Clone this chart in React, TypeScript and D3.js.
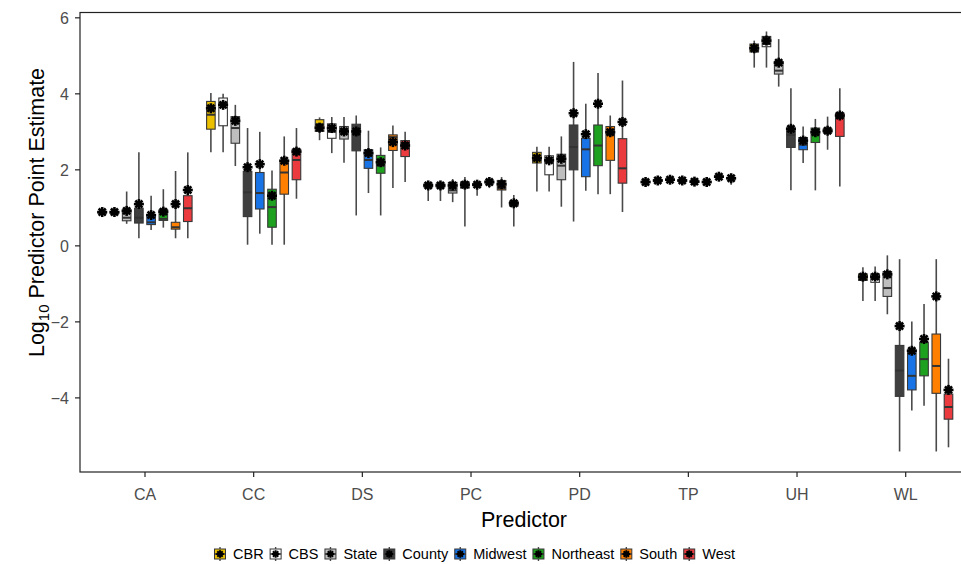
import React, { useEffect, useRef } from "react";
import * as d3 from "d3";

const predictors = ["CA", "CC", "DS", "PC", "PD", "TP", "UH", "WL"];
const groups = ["CBR", "CBS", "State", "County", "Midwest", "Northeast", "South", "West"];
const groupColors = ["#EBC000", "#FFFFFF", "#BEBEBE", "#3F3F3F", "#1874E6", "#1EA11E", "#FF8000", "#EB3B3F"];

// rows = predictors, columns = groups
const whiskerLow = [
  [0.84, 0.83, 0.58, 0.2, 0.42, 0.48, 0.2, 0.2],
  [2.46, 2.46, 2.1, 0.03, 0.32, 0.03, 0.03, 1.24],
  [2.78, 2.44, 2.19, 0.8, 1.39, 0.8, 1.52, 1.68],
  [1.18, 1.18, 1.15, 0.51, 1.32, 1.52, 1.01, 0.51],
  [1.43, 1.43, 1.03, 0.64, 1.45, 1.36, 1.36, 0.89],
  [1.64, 1.68, 1.7, 1.62, 1.65, 1.64, 1.76, 1.61],
  [4.69, 4.69, 4.19, 1.46, 2.18, 1.46, 2.53, 1.56],
  [-1.45, -1.45, -1.8, -5.41, -4.33, -4.21, -5.41, -5.3],
];
const boxLow = [
  [0.86, 0.85, 0.66, 0.6, 0.56, 0.67, 0.44, 0.64],
  [3.07, 3.16, 2.7, 0.77, 0.97, 0.49, 1.36, 1.74],
  [3.01, 2.83, 2.81, 2.5, 2.04, 1.91, 2.51, 2.35],
  [1.55, 1.55, 1.39, 1.52, 1.58, 1.65, 1.47, 1.05],
  [2.18, 1.87, 1.74, 2.0, 1.82, 2.11, 2.25, 1.65],
  [1.66, 1.7, 1.72, 1.7, 1.67, 1.66, 1.8, 1.76],
  [5.1, 5.24, 4.52, 2.59, 2.53, 2.72, 2.98, 2.88],
  [-0.91, -0.96, -1.33, -3.96, -3.79, -3.42, -3.88, -4.56],
];
const medians = [
  [0.88, 0.87, 0.74, 0.74, 0.62, 0.71, 0.49, 0.99],
  [3.45, 3.75, 3.1, 1.41, 1.39, 1.02, 1.93, 2.26],
  [3.2, 3.0, 3.05, 2.92, 2.26, 2.11, 2.86, 2.7],
  [1.59, 1.59, 1.46, 1.6, 1.61, 1.68, 1.51, 1.1],
  [2.26, 2.22, 2.11, 2.6, 2.54, 2.64, 2.95, 2.04],
  [1.68, 1.72, 1.74, 1.72, 1.69, 1.68, 1.82, 1.78],
  [5.2, 5.31, 4.61, 2.92, 2.66, 3.05, 3.03, 3.39],
  [-0.83, -0.85, -1.11, -3.28, -3.42, -2.98, -3.16, -4.24],
];
const boxHigh = [
  [0.9, 0.9, 0.95, 0.99, 0.82, 0.95, 0.62, 1.32],
  [3.8, 3.89, 3.4, 1.96, 1.93, 1.49, 2.25, 2.54],
  [3.32, 3.21, 3.14, 3.2, 2.53, 2.38, 2.92, 2.77],
  [1.63, 1.63, 1.67, 1.68, 1.64, 1.71, 1.72, 1.17],
  [2.46, 2.37, 2.41, 3.18, 2.83, 3.18, 3.14, 2.82],
  [1.7, 1.74, 1.76, 1.74, 1.71, 1.7, 1.84, 1.8],
  [5.31, 5.51, 4.85, 3.1, 2.85, 3.1, 3.08, 3.49],
  [-0.74, -0.74, -0.68, -2.62, -2.74, -2.54, -2.32, -3.9],
];
const whiskerHigh = [
  [0.93, 0.93, 1.43, 2.46, 1.32, 1.49, 1.97, 2.46],
  [4.02, 4.0, 3.71, 3.1, 3.0, 1.98, 2.88, 3.1],
  [3.38, 3.39, 3.39, 3.43, 3.03, 2.59, 3.17, 3.0],
  [1.66, 1.66, 1.76, 1.81, 1.69, 1.76, 1.81, 1.34],
  [2.61, 2.61, 2.88, 4.84, 3.74, 4.55, 3.43, 4.35],
  [1.72, 1.76, 1.78, 1.8, 1.73, 1.72, 1.86, 1.82],
  [5.4, 5.64, 5.44, 4.15, 3.14, 3.34, 3.4, 4.15],
  [-0.56, -0.54, -0.25, -0.35, -1.99, -1.53, -0.35, -2.97],
];
const estimates = [
  [0.89, 0.89, 0.92, 1.1, 0.81, 0.9, 1.1, 1.47],
  [3.62, 3.71, 3.29, 2.07, 2.15, 1.32, 2.24, 2.48],
  [3.11, 3.1, 3.01, 3.01, 2.44, 2.2, 2.73, 2.64],
  [1.59, 1.59, 1.59, 1.61, 1.61, 1.68, 1.62, 1.12],
  [2.31, 2.25, 2.29, 3.49, 2.94, 3.74, 2.99, 3.26],
  [1.68, 1.72, 1.74, 1.72, 1.69, 1.68, 1.82, 1.78],
  [5.2, 5.4, 4.82, 3.08, 2.77, 2.99, 3.03, 3.43],
  [-0.81, -0.81, -0.75, -2.11, -2.76, -2.45, -1.33, -3.79],
];
const yTicks = [-4, -2, 0, 2, 4, 6];

const W = 961, H = 564;
const panel = { left: 80, top: 12.5, bottom: 472 };
const FONT = "'Liberation Sans', Arial, Helvetica, sans-serif";

// draws the asterisk-like point marker
function star(g: any, cx: number, cy: number, r: number, sw: number) {
  const s = g.append("g").attr("transform", `translate(${cx},${cy})`);
  for (let k = 0; k < 4; k++) {
    const a = (k * Math.PI) / 4;
    s.append("line")
      .attr("x1", -r * Math.cos(a)).attr("y1", -r * Math.sin(a))
      .attr("x2", r * Math.cos(a)).attr("y2", r * Math.sin(a))
      .attr("stroke", "#000").attr("stroke-width", sw);
  }
  s.append("circle").attr("r", r * 0.66).attr("fill", "#000");
}

export default function App() {
  const ref = useRef<SVGSVGElement>(null);

  useEffect(() => {
    const svg = d3.select(ref.current);
    svg.selectAll("*").remove();

    const x = d3.scalePoint().domain(predictors).range([145, 905.7]);
    const step = x.step();
    const dodge = d3.scaleBand().domain(groups).range([-0.45 * step, 0.45 * step]);
    const bw = dodge.bandwidth() * 0.7;
    const y = d3.scaleLinear().domain([-5.95, 6.14]).range([panel.bottom, panel.top]);
    const right = (x("WL") as number) + 0.6 * step;

    // panel border
    svg.append("rect")
      .attr("x", panel.left).attr("y", panel.top)
      .attr("width", right - panel.left).attr("height", panel.bottom - panel.top)
      .attr("fill", "none").attr("stroke", "#222").attr("stroke-width", 1.2);

    const plot = svg.append("g");
    predictors.forEach((p, i) => {
      groups.forEach((gname, j) => {
        const cx = (x(p) as number) + (dodge(gname) as number) + dodge.bandwidth() / 2;
        plot.append("line")
          .attr("x1", cx).attr("x2", cx)
          .attr("y1", y(whiskerLow[i][j])).attr("y2", y(whiskerHigh[i][j]))
          .attr("stroke", "#4a4a4a").attr("stroke-width", 1.6);
        plot.append("rect")
          .attr("x", cx - bw / 2).attr("width", bw)
          .attr("y", y(boxHigh[i][j]))
          .attr("height", Math.max(0.5, y(boxLow[i][j]) - y(boxHigh[i][j])))
          .attr("fill", groupColors[j])
          .attr("stroke", "#383838").attr("stroke-width", 1.1);
        plot.append("line")
          .attr("x1", cx - bw / 2).attr("x2", cx + bw / 2)
          .attr("y1", y(medians[i][j])).attr("y2", y(medians[i][j]))
          .attr("stroke", "#333").attr("stroke-width", 2);
        star(plot, cx, y(estimates[i][j]), 5, 2.6);
      });
    });

    // y axis
    yTicks.forEach((t) => {
      svg.append("line")
        .attr("x1", panel.left - 5).attr("x2", panel.left)
        .attr("y1", y(t)).attr("y2", y(t))
        .attr("stroke", "#222").attr("stroke-width", 1.2);
      svg.append("text")
        .attr("x", panel.left - 11).attr("y", y(t)).attr("dy", "0.36em")
        .attr("text-anchor", "end").attr("font-family", FONT).attr("font-size", 16)
        .attr("fill", "#4d4d4d")
        .text(t < 0 ? "\u2212" + Math.abs(t) : String(t));
    });

    // x axis
    predictors.forEach((p) => {
      const px = x(p) as number;
      svg.append("line")
        .attr("x1", px).attr("x2", px)
        .attr("y1", panel.bottom).attr("y2", panel.bottom + 5)
        .attr("stroke", "#222").attr("stroke-width", 1.2);
      svg.append("text")
        .attr("x", px).attr("y", 500)
        .attr("text-anchor", "middle").attr("font-family", FONT).attr("font-size", 16)
        .attr("fill", "#4d4d4d").text(p);
    });

    // axis titles
    svg.append("text")
      .attr("x", 524).attr("y", 527)
      .attr("text-anchor", "middle").attr("font-family", FONT).attr("font-size", 21.5)
      .attr("fill", "#000").text("Predictor");

    const yt = svg.append("text")
      .attr("transform", "translate(44,212.5) rotate(-90)")
      .attr("text-anchor", "middle").attr("font-family", FONT).attr("font-size", 21.5)
      .attr("fill", "#000");
    yt.append("tspan").text("Log");
    yt.append("tspan").attr("font-size", 15).attr("dy", 5).text("10");
    yt.append("tspan").attr("dy", -5).text(" Predictor Point Estimate");

    // legend
    const legend = svg.append("g");
    let cursor = 0;
    const legendY = 554;
    const gap = 7;
    const after = 6;
    groups.forEach((gname, j) => {
      const item = legend.append("g").attr("transform", `translate(${cursor},0)`);
      const kx = 6;
      item.append("line")
        .attr("x1", kx).attr("x2", kx).attr("y1", legendY - 7).attr("y2", legendY + 7)
        .attr("stroke", "#4a4a4a").attr("stroke-width", 1.4);
      item.append("rect")
        .attr("x", 0.5).attr("y", legendY - 5).attr("width", 11).attr("height", 10)
        .attr("fill", groupColors[j]).attr("stroke", "#383838").attr("stroke-width", 1);
      item.append("line")
        .attr("x1", 0.5).attr("x2", 11.5).attr("y1", legendY).attr("y2", legendY)
        .attr("stroke", "#333").attr("stroke-width", 1.5);
      star(item, kx, legendY, 3.8, 2);
      const txt = item.append("text")
        .attr("x", 12 + gap).attr("y", legendY).attr("dy", "0.36em")
        .attr("font-family", FONT).attr("font-size", 14.5).attr("fill", "#000")
        .text(gname);
      const tw = (txt.node() as SVGTextElement).getComputedTextLength();
      cursor += 12 + gap + tw + after;
    });
    const total = cursor - after;
    legend.attr("transform", `translate(${474.5 - total / 2},0)`);
  }, []);

  return (
    <svg
      ref={ref}
      width={W}
      height={H}
      style={{ position: "absolute", left: 0, top: 0, background: "#fff" }}
    />
  );
}
